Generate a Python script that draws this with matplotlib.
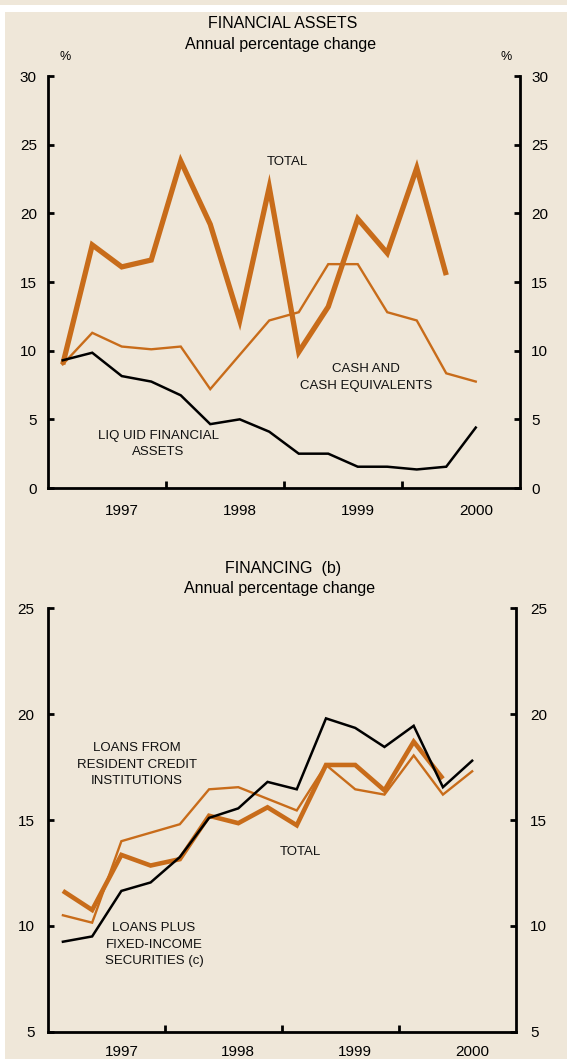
import matplotlib
matplotlib.use("Agg")
import matplotlib.pyplot as plt
from matplotlib.patches import Rectangle

plt.rcParams['font.family'] = ['Liberation Sans', 'DejaVu Sans']

# ---------------- data ----------------
years = ["1997", "1998", "1999", "2000"]

# Financial assets, annual % change (quarterly)
fa_total = [9.0, 17.7, 16.1, 16.6, 23.8, 19.2, 12.2, 21.9, 9.9, 13.2, 19.6, 17.1, 23.3, 15.5]
fa_cash = [9.0, 11.3, 10.3, 10.1, 10.3, 7.2, 9.7, 12.2, 12.8, 16.3, 16.3, 12.8, 12.2, 8.35, 7.75]
fa_liquid = [9.3, 9.85, 8.15, 7.75, 6.75, 4.65, 5.0, 4.1, 2.5, 2.5, 1.55, 1.55, 1.35, 1.55, 4.4]

# Financing, annual % change (quarterly)
fin_total = [11.65, 10.75, 13.35, 12.85, 13.15, 15.2, 14.85, 15.6, 14.75, 17.6, 17.6, 16.4, 18.7, 16.95]
fin_loans_rci = [10.5, 10.15, 14.0, 14.4, 14.8, 16.45, 16.55, 16.0, 15.45, 17.6, 16.45, 16.2, 18.05, 16.2, 17.3]
fin_loans_plus = [9.25, 9.5, 11.65, 12.05, 13.25, 15.1, 15.55, 16.8, 16.45, 19.8, 19.35, 18.45, 19.45, 16.55, 17.8]

# ---------------- style ----------------
BG = "#EFE7D9"
ORANGE = "#C86C1A"
W, H = 567, 1059

fig = plt.figure(figsize=(W / 100, H / 100), dpi=100)
fig.patch.set_facecolor("white")
fig.patches.append(Rectangle((0, 1 - 5 / H), 1, 5 / H, transform=fig.transFigure,
                             facecolor=BG, edgecolor="none", zorder=-10))
fig.patches.append(Rectangle((5 / W, 0), 1 - 5 / W, 1 - 12 / H, transform=fig.transFigure,
                             facecolor=BG, edgecolor="none", zorder=-10))


def style_axes(ax, ymin, ymax, ypad, xpad):
    ax.set_facecolor("none")
    ax.set_xlim(-0.5, 15.5)
    ax.set_ylim(ymin, ymax)
    ax.spines["top"].set_visible(False)
    for s in ("left", "right", "bottom"):
        ax.spines[s].set_linewidth(2.0)
        ax.spines[s].set_color("black")
    ax.set_yticks(range(ymin, ymax + 1, 5))
    ax.tick_params(axis="y", which="major", direction="in", length=4, width=2,
                   left=True, right=True, labelleft=True, labelright=True,
                   labelsize=11, pad=ypad)
    ax.set_xticks([3.5, 7.5, 11.5])
    ax.set_xticklabels([])
    ax.set_xticks([2, 6, 10, 14], minor=True)
    ax.set_xticklabels(years, minor=True)
    ax.tick_params(axis="x", which="major", direction="in", length=5, width=2)
    ax.tick_params(axis="x", which="minor", length=0, labelsize=11, pad=xpad)


# ---------------- top panel ----------------
ax1 = fig.add_axes([48 / W, 1 - 488 / H, (520 - 48) / W, (488 - 76) / H])
style_axes(ax1, 0, 30, 8, 11.5)
ax1.plot(range(len(fa_cash)), fa_cash, color=ORANGE, lw=1.7, solid_joinstyle="miter", zorder=3)
ax1.plot(range(len(fa_total)), fa_total, color=ORANGE, lw=3.8, solid_joinstyle="miter",
         solid_capstyle="butt", zorder=4)
ax1.plot(range(len(fa_liquid)), fa_liquid, color="black", lw=1.8, solid_joinstyle="miter", zorder=5)

lab = dict(fontsize=9.5, ha="center", va="center", linespacing=1.5, color="#111111")
ax1.text(7.6, 23.74, "TOTAL", **lab)
ax1.text(10.28, 8.05, "CASH AND\nCASH EQUIVALENTS", **lab)
ax1.text(3.23, 3.2, "LIQ UID FINANCIAL\nASSETS", **lab)

fig.text(283 / W, 1 - 23 / H, "FINANCIAL ASSETS", ha="center", va="center", fontsize=11.5)
fig.text(281 / W, 1 - 44 / H, "Annual percentage change", ha="center", va="center", fontsize=11.5)
fig.text(65 / W, 1 - 57 / H, "%", ha="center", va="center", fontsize=9)
fig.text(506 / W, 1 - 57 / H, "%", ha="center", va="center", fontsize=9)

# ---------------- bottom panel ----------------
ax2 = fig.add_axes([48.3 / W, 1 - 1031.7 / H, (516 - 48.3) / W, (1031.7 - 608.3) / H])
style_axes(ax2, 5, 25, 10, 9.5)
ax2.plot(range(len(fin_loans_rci)), fin_loans_rci, color=ORANGE, lw=1.7, solid_joinstyle="miter", zorder=3)
ax2.plot(range(len(fin_total)), fin_total, color=ORANGE, lw=3.3, solid_joinstyle="miter",
         solid_capstyle="butt", zorder=4)
ax2.plot(range(len(fin_loans_plus)), fin_loans_plus, color="black", lw=1.8, solid_joinstyle="miter", zorder=5)

ax2.text(2.54, 17.62, "LOANS FROM\nRESIDENT CREDIT\nINSTITUTIONS", **lab)
ax2.text(8.14, 13.49, "TOTAL", **lab)
ax2.text(3.12, 9.1, "LOANS PLUS\nFIXED-INCOME\nSECURITIES (c)", **lab)

fig.text(283.5 / W, 1 - 568 / H, "FINANCING  (b)", ha="center", va="center", fontsize=11.5)
fig.text(280 / W, 1 - 589 / H, "Annual percentage change", ha="center", va="center", fontsize=11.5)

fig.savefig("out.png", dpi=100, facecolor=fig.get_facecolor())
